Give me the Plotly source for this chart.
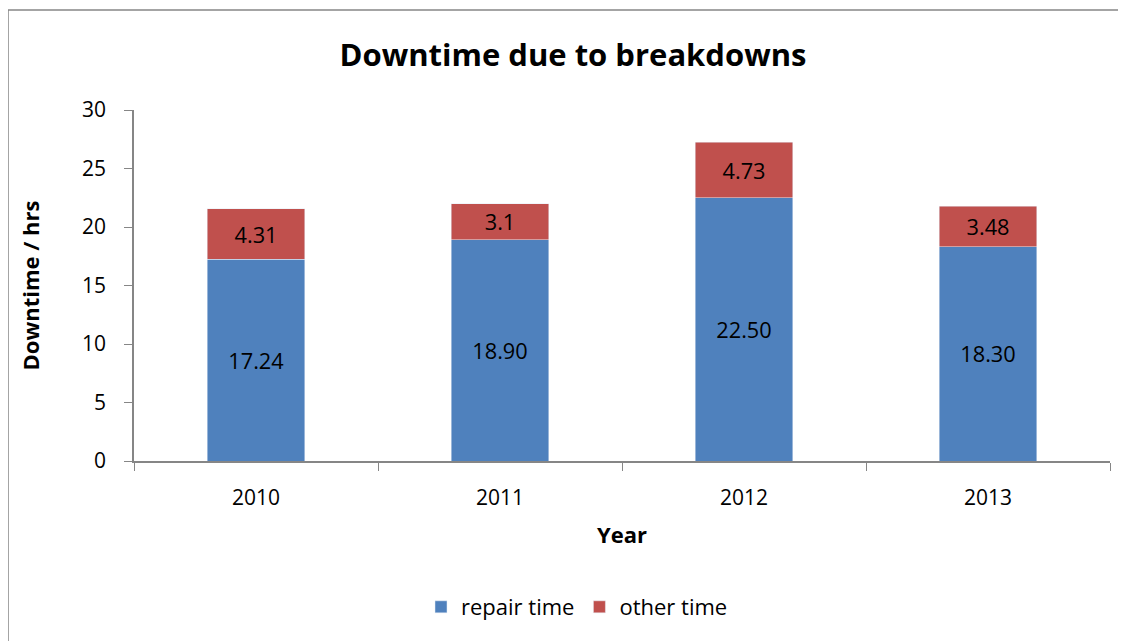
import plotly.graph_objects as go

years = ["2010", "2011", "2012", "2013"]
repair_time = [17.24, 18.90, 22.50, 18.30]
other_time = [4.31, 3.1, 4.73, 3.48]
repair_labels = ["17.24", "18.90", "22.50", "18.30"]
other_labels = ["4.31", "3.1", "4.73", "3.48"]

FONT = "Open Sans"
OFF = 8  # page body margin
W, H = 1126 - OFF, 641 - OFF
# target pixel positions in the screenshot
PL, PR, PT, PB = 134, 1110, 110, 461
L, T = PL - OFF, PT - OFF
R = W - (PR - OFF)
B = H - (PB - OFF)
pw, ph = W - L - R, H - T - B

fig = go.Figure()
fig.add_trace(go.Bar(x=years, y=repair_time, name="repair time", marker_color="#4F81BD",
                     text=repair_labels, textposition="inside", insidetextanchor="middle",
                     textangle=0, textfont=dict(color="black", size=23, family=FONT),
                     width=0.4, hoverinfo="skip"))
fig.add_trace(go.Bar(x=years, y=other_time, name="other time", marker_color="#C0504D",
                     text=other_labels, textposition="inside", insidetextanchor="middle",
                     textangle=0, textfont=dict(color="black", size=23, family=FONT),
                     width=0.4, hoverinfo="skip"))

def px_x(p):
    return (p - PL) / pw

def px_y(p):
    return (PB - p) / ph

border = dict(color="#868686", width=1.5)

fig.update_layout(
    barmode="stack",
    width=W, height=H,
    margin=dict(l=L, r=R, t=T, b=B),
    paper_bgcolor="white", plot_bgcolor="white",
    font=dict(family=FONT, size=21, color="black"),
    uniformtext=dict(minsize=8, mode="show"),
    title=dict(text="<b>Downtime due to breakdowns</b>", x=(573 - OFF) / W, xanchor="center",
               y=1 - (55 - OFF) / H, yanchor="middle", font=dict(size=31, family=FONT, color="black")),
    xaxis=dict(type="category", showline=True, linecolor="#868686", linewidth=1.5,
               ticks="outside", tickson="boundaries", ticklen=8, tickcolor="#868686",
               tickfont=dict(size=21), showgrid=False, ticklabelstandoff=17,
               title=dict(text="<b>Year</b>", font=dict(size=22), standoff=18)),
    yaxis=dict(range=[0, 30], dtick=5, showline=True, linecolor="#868686", linewidth=1.5,
               ticks="outside", ticklen=8, tickcolor="#868686", showgrid=False,
               tickfont=dict(size=21), zeroline=False, ticklabelstandoff=14,
               title=dict(text="<b>Downtime / hrs</b>", font=dict(size=22), standoff=36)),
    legend=dict(orientation="h", x=(577 - OFF) / W, xref="container", xanchor="center",
                y=1 - (607 - OFF) / H, yref="container", yanchor="middle",
                font=dict(size=22), traceorder="normal", itemwidth=30),
    shapes=[
        dict(type="line", xref="paper", yref="paper",
             x0=px_x(8), x1=px_x(1200), y0=px_y(10), y1=px_y(10), line=border, layer="below"),
        dict(type="line", xref="paper", yref="paper",
             x0=px_x(8), x1=px_x(8), y0=px_y(10), y1=px_y(700), line=border, layer="below"),
    ],
)

fig.write_html("out.html")
